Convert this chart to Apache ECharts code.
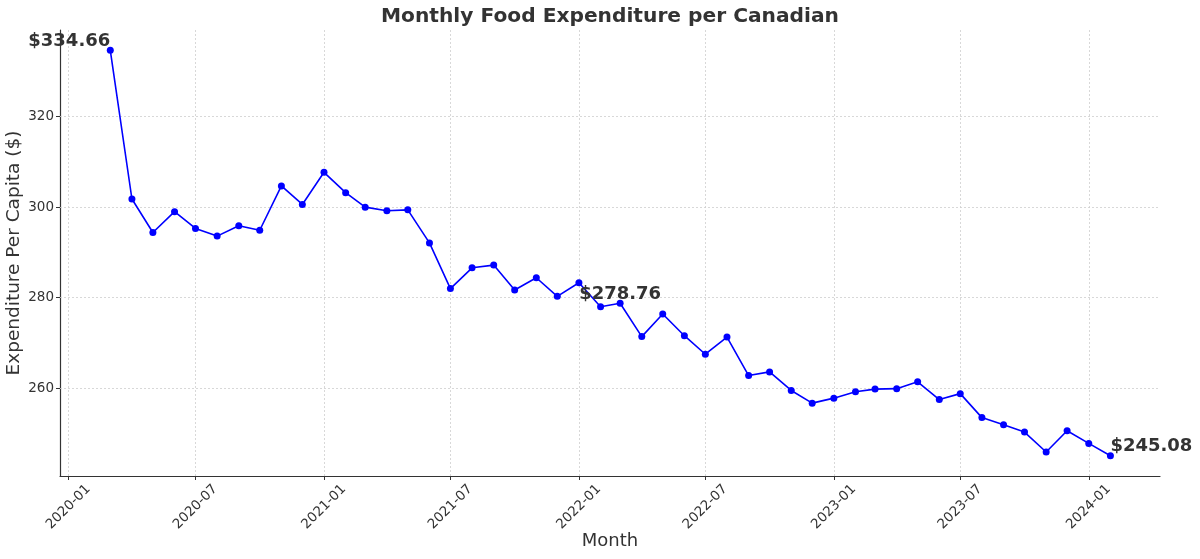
<!DOCTYPE html>
<html>
<head>
<meta charset="utf-8">
<script src="https://cdn.jsdelivr.net/npm/echarts@6.0.0/dist/echarts.min.js"></script>
<style>
  html, body { margin: 0; padding: 0; background: #fff; }
  #chart { width: 1200px; height: 559px; }
</style>
</head>
<body>
<div id="chart"></div>
<script>
// --- data ---
const months = [
  "2020-03", "2020-04", "2020-05", "2020-06", "2020-07", "2020-08", "2020-09", "2020-10",
  "2020-11", "2020-12", "2021-01", "2021-02", "2021-03", "2021-04", "2021-05", "2021-06",
  "2021-07", "2021-08", "2021-09", "2021-10", "2021-11", "2021-12", "2022-01", "2022-02",
  "2022-03", "2022-04", "2022-05", "2022-06", "2022-07", "2022-08", "2022-09", "2022-10",
  "2022-11", "2022-12", "2023-01", "2023-02", "2023-03", "2023-04", "2023-05", "2023-06",
  "2023-07", "2023-08", "2023-09", "2023-10", "2023-11", "2023-12", "2024-01", "2024-02"
];
const spend = [
  334.66, 301.8, 294.4, 299.0, 295.3, 293.6, 295.9, 294.9,
  304.7, 300.6, 307.7, 303.2, 300.0, 299.2, 299.4, 292.1,
  282.0, 286.6, 287.2, 281.7, 284.4, 280.3, 283.3, 278.0,
  278.76, 271.4, 276.4, 271.6, 267.5, 271.3, 262.8, 263.6,
  259.5, 256.7, 257.8, 259.2, 259.8, 259.9, 261.4, 257.5,
  258.8, 253.5, 251.9, 250.3, 245.9, 250.6, 247.8, 245.08
];
const xTickLabels = ["2020-01", "2020-07", "2021-01", "2021-07", "2022-01", "2022-07", "2023-01", "2023-07", "2024-01"];
const yTicks = [260, 280, 300, 320];
// annotated points: index -> text alignment
const callouts = [
  { idx: 0, align: "right" },
  { idx: 24, align: "center" },
  { idx: 47, align: "left" }
];

// axis extents (matplotlib-like 5% margins)
const xMinStr = "2019-12-20";
const xMaxStr = "2024-04-12";
const yMin = 240.6;
const yMax = 339.14;

// --- helpers ---
function ts(s) {
  const p = s.split("-").map(Number);
  return new Date(p[0], p[1] - 1, p[2] || 1).getTime();
}
function fmtMonth(v) {
  const d = new Date(v);
  return d.getFullYear() + "-" + String(d.getMonth() + 1).padStart(2, "0");
}

const FONT = "DejaVu Sans";
const INK = "#333333";
const SYM = 7;

const xTickVals = xTickLabels.map(ts);

const seriesData = months.map((m, i) => {
  const item = { value: [ts(m), spend[i]] };
  const c = callouts.find((k) => k.idx === i);
  if (c) {
    item.label = {
      show: true,
      position: [SYM / 2, SYM / 2],
      align: c.align,
      verticalAlign: "bottom",
      formatter: "$" + spend[i].toFixed(2),
      fontFamily: FONT,
      fontSize: 18,
      fontWeight: "bold",
      color: INK,
    };
  }
  return item;
});

const gridStyle = { color: "#cfcfcf", width: 0.8, type: [2, 2] };

const chart = echarts.init(document.getElementById("chart"), null, { renderer: "canvas" });
chart.setOption({
  animation: false,
  backgroundColor: "#ffffff",
  textStyle: { fontFamily: FONT },
  title: {
    text: "Monthly Food Expenditure per Canadian",
    left: 610,
    textAlign: "center",
    top: 7,
    padding: 0,
    textStyle: { fontFamily: FONT, fontSize: 20.2, fontWeight: "bold", color: INK },
  },
  grid: { left: 60, right: 40, top: 30, bottom: 83, containLabel: false, outerBoundsMode: "none" },
  xAxis: {
    // timestamps on a plain value axis, labelled at the month ticks
    type: "value",
    min: ts(xMinStr),
    max: ts(xMaxStr),
    name: "Month",
    nameLocation: "middle",
    nameGap: 56,
    nameMoveOverlap: false,
    nameTextStyle: { fontFamily: FONT, fontSize: 18, color: INK },
    axisLine: { show: true, lineStyle: { color: INK, width: 1.2 } },
    axisTick: { show: true, customValues: xTickVals, length: 4, lineStyle: { color: INK, width: 1 } },
    axisLabel: {
      customValues: xTickVals,
      rotate: 45,
      align: "center",
      verticalAlign: "middle",
      margin: 31,
      fontFamily: FONT,
      fontSize: 13.5,
      color: INK,
      formatter: (v) => fmtMonth(v),
    },
    splitLine: { show: false },
  },
  yAxis: {
    type: "value",
    min: yMin,
    max: yMax,
    name: "Expenditure Per Capita ($)",
    nameLocation: "middle",
    nameGap: 36,
    nameMoveOverlap: false,
    nameTextStyle: { fontFamily: FONT, fontSize: 18.5, color: INK },
    axisLine: { show: true, lineStyle: { color: INK, width: 1.2 } },
    axisTick: { show: true, customValues: yTicks, length: 4, lineStyle: { color: INK, width: 1 } },
    axisLabel: {
      customValues: yTicks,
      margin: 6,
      fontFamily: FONT,
      fontSize: 13.5,
      color: INK,
    },
    splitLine: { show: false },
  },
  series: [
    {
      // grid lines only
      type: "line",
      data: [],
      z: 1,
      silent: true,
      markLine: {
        silent: true,
        symbol: "none",
        label: { show: false },
        lineStyle: gridStyle,
        data: xTickVals.map((v) => ({ xAxis: v })).concat(yTicks.map((v) => ({ yAxis: v }))),
      },
    },
    {
      name: "Expenditure",
      type: "line",
      z: 5,
      data: seriesData,
      symbol: "circle",
      symbolSize: SYM,
      showAllSymbol: true,
      lineStyle: { color: "#0000ff", width: 1.6 },
      itemStyle: { color: "#0000ff" },
      labelLayout: { hideOverlap: false },
    },
  ],
});
</script>
</body>
</html>
